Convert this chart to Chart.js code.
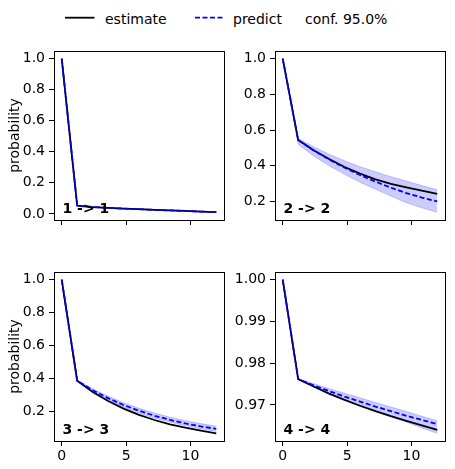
<!DOCTYPE html>
<html>
<head>
<meta charset="utf-8">
<script src="https://cdn.jsdelivr.net/npm/chart.js@4.4.1/dist/chart.umd.min.js"></script>
<style>
  html, body { margin: 0; padding: 0; background: #fff; overflow: hidden; }
  #fig { position: relative; width: 455px; height: 469px; font-family: 'DejaVu Sans', sans-serif; font-size: 14px; color: #000; }
  #fig canvas, #fig svg { position: absolute; }
  .lg { position: absolute; top: 11px; line-height: 16px; white-space: nowrap; }
</style>
</head>
<body>
<div id="fig">
  <svg style="left:63px; top:10px" width="36" height="16"><line x1="2" y1="7.7" x2="31.5" y2="7.7" stroke="#000" stroke-width="1.8"/></svg>
  <span class="lg" style="left:105px">estimate</span>
  <svg style="left:193px; top:10px" width="36" height="16"><line x1="2" y1="7.7" x2="30" y2="7.7" stroke="#0000ff" stroke-width="1.8" stroke-dasharray="5 2.5"/></svg>
  <span class="lg" style="left:233px">predict</span>
  <span class="lg" style="left:305px">conf. 95.0%</span>

  <canvas id="p1" width="234" height="216" style="left:0px; top:31px"></canvas>
  <canvas id="p2" width="225" height="216" style="left:230px; top:31px"></canvas>
  <canvas id="p3" width="234" height="216" style="left:0px; top:252px"></canvas>
  <canvas id="p4" width="225" height="216" style="left:230px; top:252px"></canvas>
</div>
<script>
// lag values shared by all panels
const xs = [0, 1.2, 2.4, 3.6, 4.8, 6, 7.2, 8.4, 9.6, 10.8, 12];
const xTicks = [0, 5, 10];

// 1 -> 1
const est1  = [1.0, 0.053, 0.044, 0.039, 0.034, 0.030, 0.026, 0.022, 0.019, 0.015, 0.011];
const pred1 = [1.0, 0.053, 0.044, 0.038, 0.034, 0.030, 0.026, 0.022, 0.018, 0.015, 0.011];
const up1   = [1.0, 0.055, 0.046, 0.040, 0.036, 0.032, 0.028, 0.024, 0.020, 0.017, 0.013];
const lo1   = [1.0, 0.051, 0.042, 0.036, 0.032, 0.028, 0.024, 0.020, 0.017, 0.013, 0.010];

// 2 -> 2
const est2  = [1.0, 0.544, 0.487, 0.438, 0.393, 0.356, 0.324, 0.299, 0.279, 0.260, 0.243];
const pred2 = [1.0, 0.544, 0.486, 0.435, 0.389, 0.348, 0.311, 0.277, 0.247, 0.222, 0.200];
const up2   = [1.0, 0.553, 0.507, 0.465, 0.428, 0.395, 0.366, 0.339, 0.314, 0.289, 0.265];
const lo2   = [1.0, 0.520, 0.455, 0.400, 0.352, 0.308, 0.268, 0.230, 0.193, 0.164, 0.139];

// 3 -> 3
const est3  = [1.0, 0.386, 0.317, 0.262, 0.216, 0.178, 0.147, 0.121, 0.100, 0.082, 0.066];
const pred3 = [1.0, 0.386, 0.328, 0.280, 0.238, 0.203, 0.173, 0.148, 0.126, 0.108, 0.093];
const up3   = [1.0, 0.390, 0.337, 0.292, 0.252, 0.218, 0.189, 0.164, 0.143, 0.125, 0.109];
const lo3   = [1.0, 0.383, 0.320, 0.269, 0.225, 0.189, 0.159, 0.134, 0.113, 0.094, 0.078];

// 4 -> 4
const est4  = [1.0, 0.9762, 0.9744, 0.9727, 0.9712, 0.9698, 0.9685, 0.9673, 0.9662, 0.9651, 0.9640];
const pred4 = [1.0, 0.9762, 0.9747, 0.9733, 0.9720, 0.9708, 0.9696, 0.9685, 0.9674, 0.9664, 0.9654];
const up4   = [1.0, 0.9763, 0.9751, 0.9739, 0.9728, 0.9717, 0.9706, 0.9695, 0.9684, 0.9673, 0.9662];
const lo4   = [1.0, 0.9761, 0.9743, 0.9726, 0.9711, 0.9697, 0.9684, 0.9671, 0.9659, 0.9645, 0.9632];

const yTicks1 = [0.0, 0.2, 0.4, 0.6, 0.8, 1.0];
const yTicks2 = [0.2, 0.4, 0.6, 0.8, 1.0];
const yTicks3 = [0.2, 0.4, 0.6, 0.8, 1.0];
const yTicks4 = [0.97, 0.98, 0.99, 1.00];

const FONT = { family: 'DejaVu Sans', size: 14 };
const BAND = 'rgba(0,0,255,0.2)';

// matplotlib-like 5% margins
function limits(arrs) {
  const all = [].concat(...arrs);
  const lo = Math.min(...all), hi = Math.max(...all);
  const m = (hi - lo) * 0.05;
  return [lo - m, hi + m];
}

// box around the plot area + the panel label
const frame = {
  id: 'frame',
  afterDatasetsDraw(chart, args, opts) {
    const { ctx, chartArea: a } = chart;
    ctx.save();
    ctx.strokeStyle = '#000';
    ctx.lineWidth = 1;
    ctx.strokeRect(a.left + 0.5, a.top + 0.5, a.right - a.left, a.bottom - a.top);
    ctx.font = 'bold 14px "DejaVu Sans"';
    ctx.fillStyle = '#000';
    ctx.textBaseline = 'alphabetic';
    ctx.fillText(opts.text, a.left + 8.5, a.bottom - 7.5);
    ctx.restore();
  }
};

function makePanel(p) {
  const pts = arr => xs.map((x, i) => ({ x, y: arr[i] }));
  const [xMin, xMax] = limits([xs]);
  const [yMin, yMax] = limits([p.est, p.pred, p.up, p.lo]);

  new Chart(document.getElementById(p.id), {
    type: 'line',
    data: {
      datasets: [
        { label: 'predict', data: pts(p.pred), borderColor: '#0000ff', borderDash: [5, 2.5], borderWidth: 1.8, pointRadius: 0, fill: false },
        { label: 'estimate', data: pts(p.est), borderColor: '#000000', borderWidth: 1.8, pointRadius: 0, fill: false },
        { label: 'upper', data: pts(p.up), borderColor: BAND, borderWidth: 1, backgroundColor: BAND, pointRadius: 0, fill: '+1' },
        { label: 'lower', data: pts(p.lo), borderColor: BAND, borderWidth: 1, pointRadius: 0, fill: false },
      ],
    },
    options: {
      responsive: false,
      animation: false,
      events: [],
      layout: { padding: { left: 0, top: 20, right: p.padRight, bottom: 0 } },
      plugins: {
        legend: { display: false },
        tooltip: { enabled: false },
        frame: { text: p.label },
      },
      scales: {
        x: {
          type: 'linear',
          min: xMin,
          max: xMax,
          afterBuildTicks: s => { s.ticks = xTicks.map(v => ({ value: v })); },
          afterFit: s => { s.height = 27; },
          grid: { drawOnChartArea: false, tickLength: 5, tickColor: '#000', tickWidth: 1 },
          border: { display: false },
          ticks: { display: p.showX, color: '#000', font: FONT, padding: 2, maxRotation: 0, autoSkip: false, callback: v => String(v) },
        },
        y: {
          type: 'linear',
          min: yMin,
          max: yMax,
          afterBuildTicks: s => { s.ticks = p.yTicks.map(v => ({ value: v })); },
          afterFit: s => { s.width = p.axisW; },
          grid: { drawOnChartArea: false, tickLength: 5, tickColor: '#000', tickWidth: 1 },
          border: { display: false },
          ticks: { color: '#000', font: FONT, padding: 4, autoSkip: false, callback: v => v.toFixed(p.dec) },
          title: { display: p.yLabel, text: 'probability', color: '#000', font: FONT, padding: { top: 6.6, bottom: 0 } },
        },
      },
    },
    plugins: [frame],
  });
}

makePanel({ id: 'p1', label: '1 -> 1', est: est1, pred: pred1, up: up1, lo: lo1, yTicks: yTicks1, dec: 1, axisW: 54, padRight: 10, yLabel: true, showX: false });
makePanel({ id: 'p2', label: '2 -> 2', est: est2, pred: pred2, up: up2, lo: lo2, yTicks: yTicks2, dec: 1, axisW: 45, padRight: 10, yLabel: false, showX: false });
makePanel({ id: 'p3', label: '3 -> 3', est: est3, pred: pred3, up: up3, lo: lo3, yTicks: yTicks3, dec: 1, axisW: 54, padRight: 10, yLabel: true, showX: true });
makePanel({ id: 'p4', label: '4 -> 4', est: est4, pred: pred4, up: up4, lo: lo4, yTicks: yTicks4, dec: 2, axisW: 45, padRight: 10, yLabel: false, showX: true });
</script>
</body>
</html>
